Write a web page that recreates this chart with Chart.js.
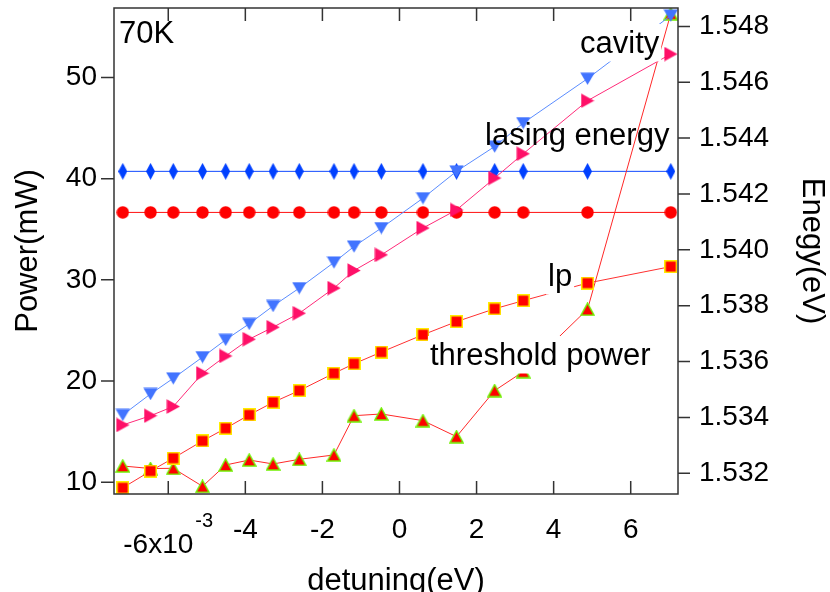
<!DOCTYPE html>
<html>
<head>
<meta charset="utf-8">
<script src="https://cdn.jsdelivr.net/npm/chart.js@4/dist/chart.umd.min.js"></script>
<style>
  html, body { margin: 0; padding: 0; background: #fff; }
  #wrap { width: 830px; height: 592px; position: relative; }
</style>
</head>
<body>
<div id="wrap"><canvas id="detuningChart"></canvas></div>
<script>
// detuning in units of 1e-3 eV
const detuning = [-7.18, -6.46, -5.87, -5.11, -4.51, -3.90, -3.28, -2.60, -1.70, -1.18, -0.47, 0.61, 1.48, 2.47, 3.21, 4.88, 7.04];

// energies (eV), right axis
const cavityEnergy = [1.53409, 1.53484, 1.53540, 1.53616, 1.53678, 1.53735, 1.53799, 1.53863, 1.53955, 1.54012, 1.54078, 1.54185, 1.54281, 1.54370, 1.54454, 1.54613, 1.54839];
const lasingEnergy = [1.53373, 1.53406, 1.53439, 1.53558, 1.53620, 1.53680, 1.53723, 1.53773, 1.53863, 1.53926, 1.53982, 1.54078, 1.54143, 1.54257, 1.54344, 1.54534, 1.54701];
const lpEnergy = [1.53148, 1.53208, 1.53254, 1.53316, 1.53361, 1.53409, 1.53454, 1.53496, 1.53558, 1.53592, 1.53634, 1.53696, 1.53743, 1.53789, 1.53818, 1.53881, 1.53940];
const upperLevel = [1.54281, 1.54281, 1.54281, 1.54281, 1.54281, 1.54281, 1.54281, 1.54281, 1.54281, 1.54281, 1.54281, 1.54281, 1.54281, 1.54281, 1.54281, 1.54281, 1.54281];
const lowerLevel = [1.54134, 1.54134, 1.54134, 1.54134, 1.54134, 1.54134, 1.54134, 1.54134, 1.54134, 1.54134, 1.54134, 1.54134, 1.54134, 1.54134, 1.54134, 1.54134, 1.54134];

// threshold power (mW), left axis
const thresholdPower = [11.61, 11.36, 11.38, 9.60, 11.71, 12.20, 11.81, 12.27, 12.70, 16.58, 16.75, 16.09, 14.51, 19.06, 20.93, 27.10, 56.30];

const xTicks = [-6, -4, -2, 0, 2, 4, 6];
const powerTicks = [10, 20, 30, 40, 50];
const energyTicks = [1.532, 1.534, 1.536, 1.538, 1.540, 1.542, 1.544, 1.546, 1.548];

const FONT = "'Liberation Sans', Arial, sans-serif";
Chart.defaults.font.family = FONT;
Chart.defaults.color = '#000';

// small canvases used as point styles
function marker(w, h, draw) {
  const c = document.createElement('canvas');
  c.width = w; c.height = h;
  draw(c.getContext('2d'), w, h);
  return c;
}
const diamondMark = marker(9, 17, (g, w, h) => {
  g.fillStyle = '#0040ff';
  g.beginPath(); g.moveTo(w / 2, 0); g.lineTo(w, h / 2); g.lineTo(w / 2, h); g.lineTo(0, h / 2); g.closePath(); g.fill();
});
const circleMark = marker(13, 13, (g) => {
  g.fillStyle = '#ff0000';
  g.beginPath(); g.arc(6.5, 6.5, 6.2, 0, Math.PI * 2); g.fill();
});
const downTriMark = marker(15, 13, (g) => {
  g.fillStyle = '#4274ff';
  g.beginPath(); g.moveTo(0.3, 0.5); g.lineTo(14.7, 0.5); g.lineTo(7.5, 12.7); g.closePath(); g.fill();
});
const rightTriMark = marker(14, 15, (g) => {
  g.fillStyle = '#ff1068';
  g.beginPath(); g.moveTo(0.5, 0.3); g.lineTo(13.7, 7.5); g.lineTo(0.5, 14.7); g.closePath(); g.fill();
});
const squareMark = marker(13, 13, (g) => {
  g.fillStyle = '#ffee00'; g.fillRect(0, 0, 13, 13);
  g.fillStyle = '#ff0000'; g.fillRect(1.5, 1.5, 10, 10);
});
const upTriMark = marker(15, 14, (g) => {
  g.fillStyle = '#ff0000'; g.strokeStyle = '#70f000'; g.lineWidth = 1.5;
  g.beginPath(); g.moveTo(7.5, 1); g.lineTo(14, 13); g.lineTo(1, 13); g.closePath(); g.fill(); g.stroke();
});

function pts(ys) {
  return detuning.map((x, i) => ({ x: x, y: ys[i] }));
}

function series(data, axis, color, style) {
  return {
    data: data,
    yAxisID: axis,
    borderColor: color,
    borderWidth: 1,
    pointStyle: style,
    pointRadius: 6,
    pointHoverRadius: 6,
    fill: false,
    tension: 0
  };
}

// free-floating text labels; some sit on an opaque white box
const labels = [
  { text: '70K', x: 119, y: 43, box: false },
  { text: 'cavity', x: 580, y: 53, box: true },
  { text: 'lasing energy', x: 485, y: 145, box: false },
  { text: 'lp', x: 548, y: 286, box: true },
  { text: 'threshold power', x: 430, y: 365, box: true }
];

const textLabels = {
  id: 'textLabels',
  afterDatasetsDraw(chart) {
    const ctx = chart.ctx;
    ctx.save();
    ctx.font = '31px ' + FONT;
    ctx.textBaseline = 'alphabetic';
    ctx.textAlign = 'left';
    labels.forEach(l => {
      const w = ctx.measureText(l.text).width;
      if (l.box) {
        ctx.fillStyle = '#fff';
        ctx.fillRect(l.x - 2, l.y - 29, w + 4, 37.5);
      }
      ctx.fillStyle = '#000';
      ctx.fillText(l.text, l.x, l.y);
    });
    ctx.restore();
  }
};

// box frame with outward ticks on the y axes and inward ticks top/bottom
const frameTicks = {
  id: 'frameTicks',
  afterDraw(chart) {
    const ctx = chart.ctx;
    const { left, right, top, bottom } = chart.chartArea;
    const sx = chart.scales.x, sp = chart.scales.yPower, se = chart.scales.yEnergy;
    ctx.save();
    ctx.strokeStyle = '#333';
    ctx.lineWidth = 1.5;
    ctx.strokeRect(left, top, right - left, bottom - top);
    ctx.beginPath();
    powerTicks.forEach(v => {
      const y = sp.getPixelForValue(v);
      ctx.moveTo(left - 13, y); ctx.lineTo(left, y);
    });
    energyTicks.forEach(v => {
      const y = se.getPixelForValue(v);
      ctx.moveTo(right, y); ctx.lineTo(right + 12, y);
    });
    xTicks.forEach(v => {
      const x = sx.getPixelForValue(v);
      ctx.moveTo(x, bottom); ctx.lineTo(x, bottom - 13);
      ctx.moveTo(x, top); ctx.lineTo(x, top + 13);
    });
    ctx.stroke();

    // first x label carries the 10^-3 multiplier
    const x6 = sx.getPixelForValue(-6);
    ctx.fillStyle = '#000';
    ctx.textAlign = 'left';
    ctx.textBaseline = 'alphabetic';
    ctx.font = '28px ' + FONT;
    const main = '-6x10';
    const mw = ctx.measureText(main).width;
    const x0 = x6 - 45;
    ctx.fillText(main, x0, 553);
    ctx.font = '20px ' + FONT;
    ctx.fillText('-3', x0 + mw + 2, 527);
    ctx.restore();
  }
};

new Chart(document.getElementById('detuningChart'), {
  type: 'line',
  data: {
    datasets: [
      series(pts(cavityEnergy), 'yEnergy', '#5a8cff', downTriMark),
      series(pts(lasingEnergy), 'yEnergy', '#ff2a78', rightTriMark),
      series(pts(lpEnergy), 'yEnergy', '#ff3030', squareMark),
      series(pts(thresholdPower), 'yPower', '#ff2828', upTriMark),
      series(pts(upperLevel), 'yEnergy', '#1048ff', diamondMark),
      series(pts(lowerLevel), 'yEnergy', '#ff1010', circleMark)
    ]
  },
  options: {
    responsive: true,
    maintainAspectRatio: false,
    animation: false,
    layout: { padding: { top: 8, left: 0, right: 0, bottom: 0 } },
    plugins: {
      legend: { display: false },
      tooltip: { enabled: false }
    },
    scales: {
      x: {
        type: 'linear',
        min: -7.408,
        max: 7.227,
        grid: { display: false, drawTicks: false },
        border: { display: false },
        afterBuildTicks: s => { s.ticks = xTicks.map(v => ({ value: v })); },
        afterFit: s => { s.height = 98; s.paddingLeft = 0; s.paddingRight = 0; },
        ticks: {
          font: { size: 28 },
          padding: 19,
          maxRotation: 0,
          autoSkip: false,
          callback: v => (v === -6 ? '' : String(v))
        },
        title: {
          display: true,
          text: 'detuning(eV)',
          font: { size: 31 },
          padding: { top: 0, bottom: -8 }
        }
      },
      yPower: {
        type: 'linear',
        position: 'left',
        min: 8.843,
        max: 56.86,
        grid: { display: false, drawTicks: false },
        border: { display: false },
        afterBuildTicks: s => { s.ticks = powerTicks.map(v => ({ value: v })); },
        afterFit: s => { s.width = 114; s.paddingTop = 0; s.paddingBottom = 0; },
        ticks: {
          font: { size: 28 },
          padding: 17,
          autoSkip: false,
          callback: v => String(v)
        },
        title: {
          display: true,
          text: 'Power(mW)',
          font: { size: 31 },
          padding: { top: 10, bottom: 0 }
        }
      },
      yEnergy: {
        type: 'linear',
        position: 'right',
        min: 1.531258,
        max: 1.548659,
        grid: { display: false, drawTicks: false },
        border: { display: false },
        afterBuildTicks: s => { s.ticks = energyTicks.map(v => ({ value: v })); },
        afterFit: s => { s.width = 152; s.paddingTop = 0; s.paddingBottom = 0; },
        ticks: {
          font: { size: 28 },
          padding: 21,
          autoSkip: false,
          callback: v => v.toFixed(3)
        },
        title: {
          display: true,
          text: 'Enegy(eV)',
          font: { size: 31 },
          padding: { top: 0, bottom: 0 }
        }
      }
    }
  },
  plugins: [textLabels, frameTicks]
});
</script>
</body>
</html>
